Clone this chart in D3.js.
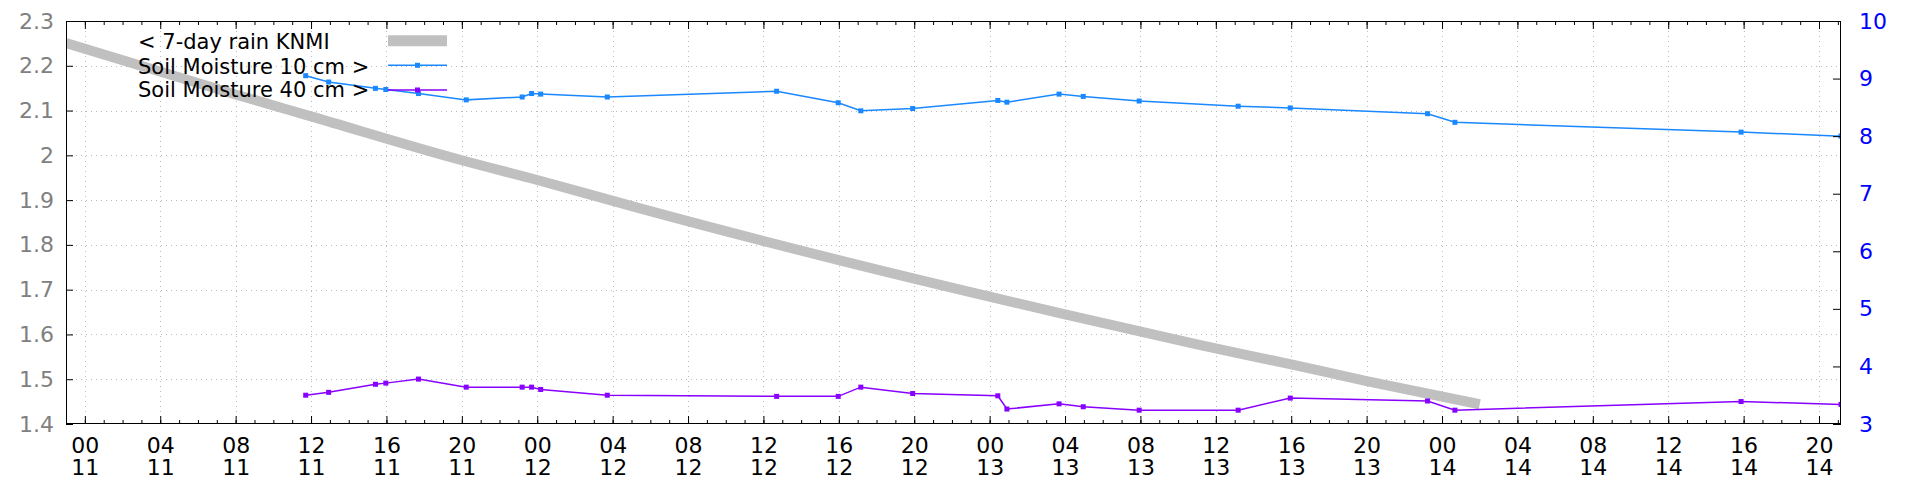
<!DOCTYPE html>
<html><head><meta charset="utf-8">
<script src="https://cdn.jsdelivr.net/npm/d3@7"></script>
<style>body{margin:0;background:#fff}svg{display:block}text{font-family:"DejaVu Sans",sans-serif}</style>
</head><body><svg id="c" width="1920" height="480"></svg>
<script>
// ---- data ----
const rainTimes = ["2023-11-10 23:00","2023-11-11 08:00","2023-11-11 12:00","2023-11-11 20:00","2023-11-12 00:00","2023-11-12 05:30","2023-11-12 16:00","2023-11-13 04:00","2023-11-13 11:00","2023-11-13 16:00","2023-11-13 20:00","2023-11-14 02:00"];
const rainValues = [2.251,2.136,2.087,1.989,1.945,1.881,1.766,1.645,1.578,1.533,1.496,1.444];
const soilTimes = ["2023-11-11 11:43","2023-11-11 12:56","2023-11-11 15:25","2023-11-11 15:58","2023-11-11 17:42","2023-11-11 20:14","2023-11-11 23:12","2023-11-11 23:42","2023-11-12 00:11","2023-11-12 03:43","2023-11-12 12:42","2023-11-12 15:58","2023-11-12 17:10","2023-11-12 19:55","2023-11-13 00:26","2023-11-13 00:55","2023-11-13 03:41","2023-11-13 04:58","2023-11-13 07:56","2023-11-13 13:11","2023-11-13 15:57","2023-11-13 23:14","2023-11-14 00:41","2023-11-14 15:52","2023-11-14 21:10"];
const soil10 = [9.05,8.94,8.83,8.81,8.74,8.63,8.68,8.74,8.73,8.68,8.78,8.58,8.44,8.48,8.62,8.59,8.73,8.69,8.61,8.52,8.49,8.39,8.24,8.07,8.00];
const soil40 = [3.50,3.55,3.69,3.71,3.78,3.64,3.64,3.64,3.60,3.50,3.48,3.48,3.64,3.53,3.49,3.26,3.35,3.30,3.24,3.24,3.45,3.40,3.24,3.39,3.34];
const leftTicks = [1.4,1.5,1.6,1.7,1.8,1.9,2.0,2.1,2.2,2.3];
const rightTicks = [3,4,5,6,7,8,9,10];
const legendLabels = ["< 7-day rain KNMI","Soil Moisture 10 cm >","Soil Moisture 40 cm >"];

// ---- layout ----
const L=66, R=1841, T=21, B=424;
const COL_RAIN="#c0c0c0", COL_10="#1a88ff", COL_40="#8800ff";
const svg = d3.select("#c");
const parse = d3.utcParse("%Y-%m-%d %H:%M");
const rain = rainTimes.map((t,i)=>({t:parse(t), v:rainValues[i]}));
const s10 = soilTimes.map((t,i)=>({t:parse(t), v:soil10[i]}));
const s40 = soilTimes.map((t,i)=>({t:parse(t), v:soil40[i]}));

const x = d3.scaleUtc().domain([rain[0].t, s10[s10.length-1].t]).range([L,R]);
const yL = d3.scaleLinear().domain([1.4,2.3]).range([B,T]);
const yR = d3.scaleLinear().domain([3,10]).range([B,T]);

svg.append("defs").append("clipPath").attr("id","clip")
  .append("rect").attr("x",L).attr("y",T).attr("width",R-L).attr("height",B-T);

// grid
const grid = svg.append("g").attr("stroke","#bbbbbb").attr("stroke-width",1).attr("stroke-dasharray","1,4");
grid.selectAll("line.h").data(leftTicks.slice(1,-1)).join("line")
  .attr("x1",L).attr("x2",R).attr("y1",d=>Math.round(yL(d))+0.5).attr("y2",d=>Math.round(yL(d))+0.5);
grid.selectAll("line.v").data(x.ticks(d3.utcHour.every(4)).filter(d=>x(d)>L+2&&x(d)<R-2)).join("line")
  .attr("y1",T).attr("y2",B).attr("x1",d=>Math.round(x(d))+0.5).attr("x2",d=>Math.round(x(d))+0.5);

// data
const plot = svg.append("g").attr("clip-path","url(#clip)");
plot.append("path").datum(rain).attr("fill","none").attr("stroke",COL_RAIN).attr("stroke-width",10)
  .attr("d", d3.line().curve(d3.curveMonotoneX).x(d=>x(d.t)).y(d=>yL(d.v)));
const lineR = d3.line().x(d=>x(d.t)).y(d=>yR(d.v));
[[s10,COL_10],[s40,COL_40]].forEach(([data,col])=>{
  plot.append("path").datum(data).attr("fill","none").attr("stroke",col).attr("stroke-width",1.5).attr("d",lineR);
  plot.selectAll(null).data(data).join("rect")
    .attr("x",d=>x(d.t)-2.5).attr("y",d=>yR(d.v)-2.5).attr("width",5).attr("height",5).attr("fill",col);
});

// axes
function styleAxis(g){ g.select(".domain").remove(); g.attr("color","#000"); }
const hourFmt = d3.utcFormat("%H"), dayFmt = d3.utcFormat("%d");
const gx = svg.append("g").attr("transform",`translate(0,${B})`)
  .call(d3.axisBottom(x).ticks(d3.utcHour.every(4)).tickSizeInner(-8).tickSizeOuter(0).tickFormat(""));
styleAxis(gx);
gx.selectAll(".tick text").remove();
gx.selectAll(".tick").append("text").attr("y",28.5).attr("fill","#000").attr("font-size",22).attr("text-anchor","middle").text(d=>hourFmt(d));
gx.selectAll(".tick").append("text").attr("y",50.5).attr("fill","#000").attr("font-size",22).attr("text-anchor","middle").text(d=>dayFmt(d));
const gxm = svg.append("g").attr("transform",`translate(0,${B})`)
  .call(d3.axisBottom(x).ticks(d3.utcHour.every(1)).tickSizeInner(-4).tickSizeOuter(0).tickFormat(""));
styleAxis(gxm);
const gt = svg.append("g").attr("transform",`translate(0,${T})`)
  .call(d3.axisTop(x).ticks(d3.utcHour.every(4)).tickSizeInner(-8).tickSizeOuter(0).tickFormat(""));
styleAxis(gt);
const gtm = svg.append("g").attr("transform",`translate(0,${T})`)
  .call(d3.axisTop(x).ticks(d3.utcHour.every(1)).tickSizeInner(-4).tickSizeOuter(0).tickFormat(""));
styleAxis(gtm);

const gl = svg.append("g").attr("transform",`translate(${L},0)`)
  .call(d3.axisLeft(yL).tickValues(leftTicks).tickSizeInner(-7).tickSizeOuter(0).tickPadding(12).tickFormat(d3.format("")));
styleAxis(gl);
gl.selectAll(".tick text").attr("fill","#808080").attr("font-size",22).attr("font-family","DejaVu Sans");

const gr = svg.append("g").attr("transform",`translate(${R},0)`)
  .call(d3.axisRight(yR).tickValues(rightTicks).tickSizeInner(-8).tickSizeOuter(0).tickPadding(18).tickFormat(d3.format("d")));
styleAxis(gr);
gr.selectAll(".tick text").attr("fill","#0000ff").attr("font-size",22).attr("font-family","DejaVu Sans");

// border
svg.append("rect").attr("x",L+0.5).attr("y",T+0.5).attr("width",R-L-1).attr("height",B-T-1)
  .attr("fill","none").attr("stroke","#000").attr("stroke-width",1);

// legend
const leg = svg.append("g");
const rowsY = [40.7,65.3,90];
const baseY = [49.3,74,96.7];
legendLabels.forEach((lab,i)=>{
  leg.append("text").attr("x",138).attr("y",baseY[i]).attr("font-size",21).attr("fill","#000").text(lab);
});
leg.append("line").attr("x1",388).attr("x2",447).attr("y1",rowsY[0]).attr("y2",rowsY[0]).attr("stroke",COL_RAIN).attr("stroke-width",11);
[[COL_10,1],[COL_40,2]].forEach(([col,i])=>{
  leg.append("line").attr("x1",388).attr("x2",447).attr("y1",rowsY[i]).attr("y2",rowsY[i]).attr("stroke",col).attr("stroke-width",1.5);
  leg.append("rect").attr("x",417.5-2.5).attr("y",rowsY[i]-2.5).attr("width",5).attr("height",5).attr("fill",col);
});
</script></body></html>
